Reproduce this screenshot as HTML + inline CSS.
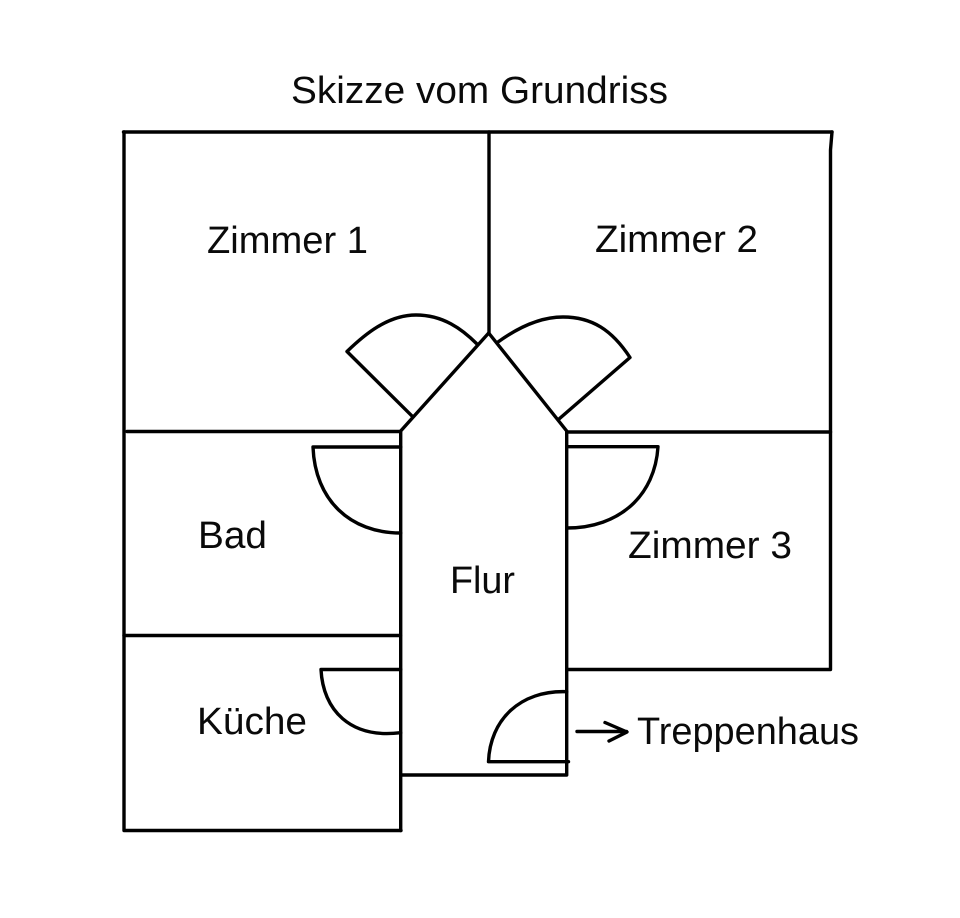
<!DOCTYPE html>
<html><head><meta charset="utf-8">
<style>html,body{margin:0;padding:0;background:#fff}svg{display:block}text{font-family:"Liberation Sans",sans-serif;fill:#0a0a0a;font-size:38px}</style>
</head><body>
<svg width="960" height="918" viewBox="0 0 960 918" xmlns="http://www.w3.org/2000/svg">
<g fill="none" stroke="#000" stroke-width="3.4" stroke-linecap="round" stroke-linejoin="round">
<path d="M123.5 132H832"/>
<path d="M124 132V830.5H401"/>
<path d="M832 132L830.5 150V669.5H567"/>
<path d="M489 132V333"/>
<path d="M127 431.5H400.5"/>
<path d="M567 432H830.5"/>
<path d="M124 635.5H400.5"/>
<path d="M400.7 830.5V431L488.7 333L566.7 431V775H401"/>
<path d="M412.7 416.7L347 351.5C365 334 388 315 416 315C443 315 462 329 477 344"/>
<path d="M559 419L630 357.5C612 330 592 317 563 317C538 317 516 329 498 342"/>
<path d="M400.7 447H313C315 500 350 533 400.7 533"/>
<path d="M566.7 446.7H658C655 495 620 528 566.7 528"/>
<path d="M400.7 669.5H321C323 710 350 739 400.7 732.7"/>
<path d="M566.7 691.7C520 690 490 720 488.5 761.7H568.5"/>
<path d="M577 731.5H626.5M605 722.5L627 732L609 741"/>
</g>
<text x="291" y="103" textLength="377" lengthAdjust="spacingAndGlyphs">Skizze vom Grundriss</text>
<text x="207" y="253" textLength="161" lengthAdjust="spacingAndGlyphs">Zimmer 1</text>
<text x="595" y="252" textLength="163" lengthAdjust="spacingAndGlyphs">Zimmer 2</text>
<text x="198" y="548" textLength="69" lengthAdjust="spacingAndGlyphs">Bad</text>
<text x="628" y="558" textLength="164" lengthAdjust="spacingAndGlyphs">Zimmer 3</text>
<text x="450" y="593" textLength="65" lengthAdjust="spacingAndGlyphs">Flur</text>
<text x="197" y="734" textLength="110" lengthAdjust="spacingAndGlyphs">Küche</text>
<text x="637" y="744" textLength="222" lengthAdjust="spacingAndGlyphs">Treppenhaus</text>
</svg>
</body></html>
